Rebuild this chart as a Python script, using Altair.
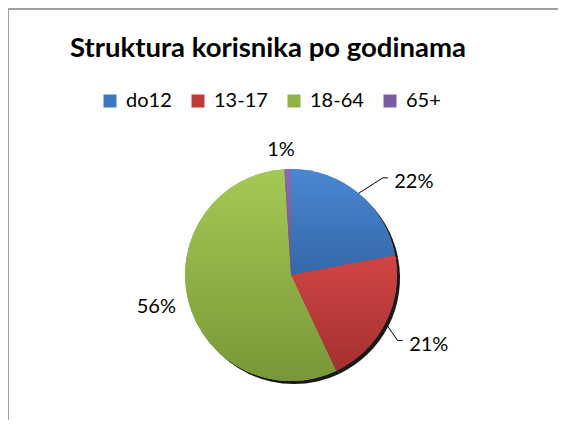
import altair as alt
import pandas as pd

categories = ["do12", "13-17", "18-64", "65+"]
values = [22, 21, 56, 1]
labels = ["22%", "21%", "56%", "1%"]
legend_colors = ["#3f78c0", "#bf3b3b", "#8fb347", "#7a5ca0"]
grad_top = ["#4a88d2", "#d04545", "#a5c955", "#8a6bb0"]
grad_bottom = ["#3567a8", "#a3302f", "#789838", "#6c5090"]

df = pd.DataFrame({"category": categories, "value": values,
                   "label": labels, "order": list(range(len(categories)))})

W, H = 550, 352
CX, CY, R = 283, 207, 106
FONT = "Lato"

# label placement: (radius, dx, dy, leader?)
placement = {
    "do12": (130, 40, 7, True),
    "13-17": (140, 13, 6, True),
    "18-64": (138, -1, -2, False),
    "65+": (125, -6, 0, False),
}

base = alt.Chart(df).transform_window(
    cum="sum(value)", sort=[alt.SortField("order")], frame=[None, 0]
).transform_calculate(
    start="datum.cum - datum.value",
    mid="datum.cum - datum.value / 2",
)

theta_scale = alt.Scale(domain=[0, 100])
theta = alt.Theta("start:Q", scale=theta_scale, stack=None)
theta2 = alt.Theta2("cum:Q")

shadow = base.mark_arc(radius=R, color="#000000", opacity=0.9).encode(
    theta=theta, theta2=theta2, x=alt.value(CX + 3), y=alt.value(CY + 3)
)

legend_layer = base.mark_arc(radius=R).encode(
    theta=theta, theta2=theta2,
    x=alt.value(CX), y=alt.value(CY),
    color=alt.Color(
        "category:N",
        scale=alt.Scale(domain=categories, range=legend_colors),
        legend=alt.Legend(
            orient="none", legendX=92, legendY=23, direction="horizontal",
            title=None, symbolType="square", symbolSize=169,
            symbolStrokeWidth=0, labelFontSize=20, labelFont=FONT,
            labelColor="black", labelOffset=6, columnPadding=16,
            symbolOpacity=1,
        ),
    ),
)

layers = [shadow, legend_layer]

for i, cat in enumerate(categories):
    grad = alt.Gradient(
        gradient="linear",
        stops=[alt.GradientStop(color=grad_top[i], offset=0),
               alt.GradientStop(color=grad_bottom[i], offset=1)],
        x1=0, x2=0, y1=0, y2=1,
    )
    layers.append(
        base.transform_filter(alt.datum.category == cat)
        .mark_arc(radius=R, color=grad)
        .encode(theta=theta, theta2=theta2, x=alt.value(CX), y=alt.value(CY))
    )

for cat in categories:
    r, dx, dy, leader = placement[cat]
    layers.append(
        base.transform_filter(alt.datum.category == cat)
        .mark_text(radius=r, dx=dx, dy=dy, fontSize=20, font=FONT, color="black")
        .encode(theta=alt.Theta("mid:Q", scale=theta_scale, stack=None),
                text="label:N", x=alt.value(CX), y=alt.value(CY))
    )
    if leader:
        ld = base.transform_filter(alt.datum.category == cat).transform_calculate(
            a="2 * PI * datum.mid / 100",
        ).transform_calculate(
            x0=f"{CX} + {R} * sin(datum.a)",
            y0=f"{CY} - {R} * cos(datum.a)",
            lx=f"{CX} + {r} * sin(datum.a) + {dx}",
            ly=f"{CY} - {r} * cos(datum.a) + {dy}",
        ).transform_calculate(
            x1="datum.lx - 31", y1="datum.ly - 4",
            x2="datum.lx - 26",
        )
        layers.append(
            ld.mark_rule(color="black", strokeWidth=1).encode(
                x=alt.X("x0:Q", scale=None, axis=None),
                y=alt.Y("y0:Q", scale=None, axis=None),
                x2="x1:Q", y2="y1:Q",
            )
        )
        layers.append(
            ld.mark_rule(color="black", strokeWidth=1).encode(
                x=alt.X("x1:Q", scale=None, axis=None),
                y=alt.Y("y1:Q", scale=None, axis=None),
                x2="x2:Q", y2="y1:Q",
            )
        )

border_top = base.mark_rule(color="#a0a0a0", strokeWidth=2).encode(
    x=alt.value(0), x2=alt.value(W), y=alt.value(-59)
)
border_left = base.mark_rule(color="#a0a0a0", strokeWidth=2).encode(
    x=alt.value(0), y=alt.value(-59), y2=alt.value(H)
)
layers += [border_top, border_left]

chart = alt.layer(*layers).properties(
    width=W, height=H,
    padding={"left": 0, "top": 60, "right": 0, "bottom": 0},
    autosize=alt.AutoSizeParams(type="none"),
    title=alt.TitleParams(
        "Struktura korisnika po godinama", font=FONT, fontSize=27.5,
        fontWeight="bold", anchor="middle", offset=-76, baseline="alphabetic",
        color="black", dx=-15,
    ),
    background="white",
).configure_view(stroke=None)

chart.save("out.html", embed_options={"renderer": "svg", "actions": False})
